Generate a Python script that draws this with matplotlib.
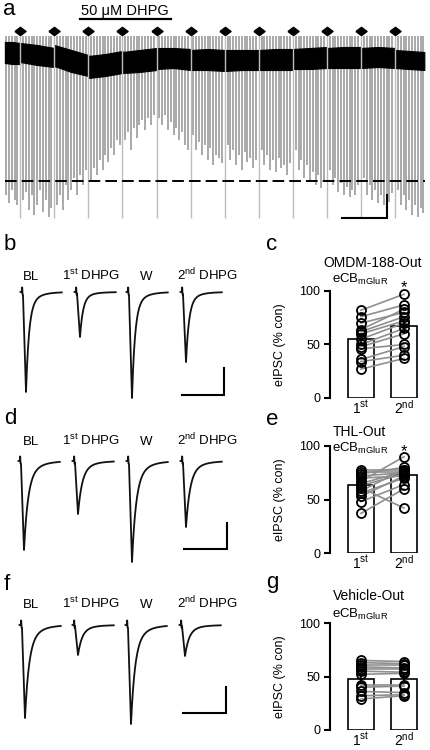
import numpy as np
import matplotlib
matplotlib.use("Agg")
import matplotlib.pyplot as plt

plt.rcParams['font.family'] = ['Liberation Sans', 'DejaVu Sans']
plt.rcParams['mathtext.fontset'] = 'custom'
plt.rcParams['mathtext.rm'] = 'Liberation Sans'
plt.rcParams['mathtext.it'] = 'Liberation Sans:italic'
plt.rcParams['mathtext.bf'] = 'Liberation Sans:bold'

W, H = 430, 750

# ---- panel a: eIPSC amplitude per sweep (pA), grouped between the train markers
sweep_amp = [
    [1400, 1480, 1350, 1450, 1500],
    [1450, 1370, 1550, 1400, 1600, 1500, 1350, 1570, 1450, 1620, 1530],
    [1500, 1400, 1550, 1300, 1450, 1350, 1230, 1400, 1200, 1300, 1150],
    [1250, 1130, 1200, 1050, 1150, 1000, 1070, 930, 1000, 850, 900],
    [850, 770, 950, 730, 830, 700, 650, 750, 630, 700, 600],
    [630, 700, 600, 750, 670, 800, 730, 850, 770, 900, 950],
    [800, 950, 870, 1000, 900, 1050, 930, 1100, 1000, 1030, 1080],
    [900, 1050, 950, 1100, 1000, 1150, 970, 1070, 1030, 1130, 1050],
    [950, 1100, 1000, 1150, 1050, 1170, 1030, 1130, 1100, 1200, 1080],
    [950, 1150, 1050, 1230, 1100, 1270, 1170, 1300, 1200, 1330, 1250],
    [1150, 1300, 1230, 1370, 1280, 1400, 1320, 1420, 1350, 1400, 1300],
    [1230, 1400, 1300, 1450, 1350, 1480, 1400, 1500, 1430, 1470, 1380],
    [1350, 1500, 1400, 1550, 1450, 1600, 1500, 1620, 1530, 1580],
]
# holding current noise band (top / bottom, pA) at start, middle, end of each block
band_top = [[130, 130, 120], [120, 100, 70], [100, 50, 0], [-10, 10, 40],
            [30, 50, 70], [70, 70, 60], [50, 60, 50], [50, 50, 50],
            [50, 60, 60], [60, 70, 80], [70, 80, 80], [70, 80, 70], [50, 40, 30]]
band_bot = [[-80, -90, -90], [-70, -100, -120], [-110, -170, -210], [-230, -210, -180],
            [-180, -170, -150], [-140, -130, -150], [-150, -150, -160], [-160, -150, -150],
            [-150, -150, -150], [-140, -140, -130], [-130, -130, -130], [-130, -120, -130],
            [-130, -140, -150]]
artifact_top = 190
train_depth = -1630
dashed_level = -1260
dhpg_on, dhpg_off = 26, 58

# ---- panels b, d, f: example eIPSC peak amplitudes (pA) for BL, 1st DHPG, W, 2nd DHPG
trace_names = ['BL', '1$^{\\rm st}$ DHPG', 'W', '2$^{\\rm nd}$ DHPG']
b_amp = [1000, 450, 1060, 700]
d_amp = [890, 530, 1010, 660]
f_amp = [930, 300, 990, 310]
b_decay = (3.0, 10.0, 0.85)
d_decay = (4.0, 12.0, 0.8)
f_decay = (4.0, 12.0, 0.8)

# ---- panels c, e, g: eIPSC (% con), paired cells
c_first = [82, 76, 70, 64, 60, 55, 50, 48, 46, 36, 34, 27, 62]
c_second = [97, 87, 80, 83, 72, 70, 65, 60, 50, 48, 40, 37, 76]
c_mean, c_sem = [55, 67], [5, 5.5]
e_first = [78, 76, 74, 72, 70, 67, 65, 63, 61, 58, 56, 53, 48, 37]
e_second = [78, 76, 80, 75, 72, 90, 76, 74, 42, 78, 70, 72, 64, 60]
e_mean, e_sem = [63.5, 73], [3.5, 3.5]
g_first = [65, 63, 61, 59, 57, 55, 52, 42, 40, 36, 32, 29]
g_second = [64, 62, 61, 58, 57, 54, 53, 42, 41, 35, 33, 32]
g_mean, g_sem = [47.5, 47.5], [3.5, 3.5]
bar_labels = ['1$^{\\rm st}$', '2$^{\\rm nd}$']

fig = plt.figure(figsize=(W / 100, H / 100), dpi=100)


def px_axes(x0, y0, x1, y1):
    return fig.add_axes([x0 / W, 1 - y1 / H, (x1 - x0) / W, (y1 - y0) / H])


def ftext(x, y, s, **kw):
    fig.text(x / W, 1 - y / H, s, **kw)


# ================= panel a
slot_px = 2.84
ax = px_axes(0, 0, W, 225)
ax.set_xlim(-6 / slot_px, (W - 6) / slot_px)
ax.set_ylim(-1700, 550)
ax.axis('off')

slot = 0
bounds = []
seg_x = []
for k, seg in enumerate(sweep_amp):
    xs = slot + np.arange(len(seg))
    seg_x.append(xs)
    slot += len(seg)
    if k < len(sweep_amp) - 1:
        bounds.append(slot)
        slot += 1

for k, seg in enumerate(sweep_amp):
    xs = seg_x[k]
    ax.vlines(xs, -np.array(seg), artifact_top, color='#a2a2a2', lw=1.3, zorder=1)
    x0 = bounds[k - 1] if k > 0 else xs[0] - 0.4
    x1 = bounds[k] if k < len(bounds) else xs[-1] + 0.3
    bx = [x0, (x0 + x1) / 2, x1]
    ax.fill_between(bx, band_bot[k], band_top[k], color='black', lw=0.8, zorder=2)

ax.vlines(bounds, train_depth, artifact_top, color='#bdbdbd', lw=1.0, zorder=3)
diamond = [(-1, 0), (0, 0.75), (1, 0), (0, -0.75), (-1, 0)]
ax.plot(bounds, [240] * len(bounds), ls='none', marker=diamond, ms=8, color='black',
        clip_on=False, zorder=4)
ax.plot([-0.35, seg_x[-1][-1] + 0.4], [dashed_level] * 2, color='black', lw=1.4,
        ls=(0, (6, 2.6)), zorder=5)
ax.plot([dhpg_on, dhpg_off], [360, 360], color='black', lw=1.6, clip_on=False)
ax.text((dhpg_on + dhpg_off) / 2, 400, '50 \u03bcM DHPG', ha='center', va='baseline',
        fontsize=10.5)
# scale bar
ax.plot([118.3, 134.2, 134.2], [train_depth, train_depth, train_depth + 230],
        color='black', lw=1.5, zorder=5, solid_joinstyle='miter')
ftext(3, 15, 'a', fontsize=16, va='baseline')


# ================= panels b, d, f
def eipsc(amp, decay):
    tau1, tau2, w = decay
    t = np.arange(-1.5, 40, 0.25)
    y = np.zeros_like(t)
    y[(t >= 0) & (t < 0.4)] = 45
    y[(t >= 0.4) & (t < 0.9)] = -25
    rise = (t >= 0.9) & (t < 4)
    y[rise] = -amp * (t[rise] - 0.9) / 3.1
    dec = t >= 4
    td = t[dec] - 4
    y[dec] = -amp * (w * np.exp(-td / tau1) + (1 - w) * np.exp(-td / tau2))
    return t, y


def trace_panel(letter, top, bot, base, amps, decay, starts, label_y, sb_y, sb_top, sb_x,
                letter_y):
    ax = px_axes(0, top, 250, bot)
    ax.set_xlim(0, 250)
    ax.set_ylim(-(bot - base) * 10, (base - top) * 10)
    ax.axis('off')
    for amp, x0 in zip(amps, starts):
        t, y = eipsc(amp, decay)
        ax.plot(x0 + t, y, color='#111111', lw=1.3)
    for name, xc in zip(trace_names, [31, 91, 146, 208]):
        ax.text(xc, (base - label_y) * 10, name, ha='center', va='baseline', fontsize=9.5)
    ax.plot([sb_x[0], sb_x[1], sb_x[1]],
            [-(sb_y - base) * 10, -(sb_y - base) * 10, -(sb_top - base) * 10],
            color='black', lw=1.5, solid_joinstyle='miter')
    ftext(4, letter_y, letter, fontsize=16, va='baseline')


trace_panel('b', 262, 412, 292, b_amp, b_decay, [22, 76, 128, 182], 280, 395, 368, (182, 224), 250)
trace_panel('d', 428, 572, 461, d_amp, d_decay, [20, 74, 128, 182], 445, 549, 523, (184, 227), 424)
trace_panel('f', 592, 742, 625, f_amp, f_decay, [21, 74, 127, 181], 608, 713, 687, (183, 226), 590)


# ================= panels c, e, g
def bar_panel(y100, y0, first, second, mean, sem, letter, letter_y, title, title_x, title_y,
              ecb_y, star_y):
    ax = px_axes(330, y100, 330 + 2.22 * 43, y0)
    ax.set_xlim(-0.72, 1.5)
    ax.set_ylim(0, 100)
    for s in ['top', 'right', 'bottom']:
        ax.spines[s].set_visible(False)
    ax.spines['left'].set_linewidth(1.5)
    ax.set_yticks([0, 50, 100])
    ax.tick_params(axis='y', length=4.3, width=1.5, labelsize=9, pad=2.5)
    ax.set_xticks([0, 1])
    ax.set_xticklabels(bar_labels, fontsize=10)
    ax.tick_params(axis='x', length=0, pad=0.5)
    ax.bar([0, 1], mean, width=0.6, color='white', edgecolor='black', lw=1.2, zorder=2)
    for a, b in zip(first, second):
        ax.plot([0, 1], [a, b], color='#8f8f8f', lw=1.2, zorder=3, clip_on=False)
    ax.plot([0] * len(first), first, 'o', mfc='none', mec='black', ms=6.5, mew=1.3,
            zorder=4, clip_on=False)
    ax.plot([1] * len(second), second, 'o', mfc='none', mec='black', ms=6.5, mew=1.3,
            zorder=4, clip_on=False)
    ax.errorbar([0, 1], mean, yerr=sem, fmt='none', ecolor='black', elinewidth=1.2,
                capsize=3, capthick=1.2, zorder=5)
    ax.set_ylabel('eIPSC (% con)', fontsize=9)
    ax.yaxis.set_label_coords((286 - 330) / (2.22 * 43), 0.5)
    ftext(266, letter_y, letter, fontsize=16, va='baseline')
    ftext(title_x, title_y, title, fontsize=10, va='baseline')
    ftext(332, ecb_y, 'eCB$_{\\rm mGluR}$', fontsize=9.5, va='baseline')
    if star_y is not None:
        ftext(404, star_y, '*', fontsize=12, ha='center', va='baseline')


bar_panel(291, 398, c_first, c_second, c_mean, c_sem, 'c', 250, 'OMDM-188-Out', 323, 267, 283, 292)
bar_panel(446, 553, e_first, e_second, e_mean, e_sem, 'e', 425, 'THL-Out', 333, 436, 452, 456)
bar_panel(623, 730, g_first, g_second, g_mean, g_sem, 'g', 588, 'Vehicle-Out', 333, 600, 618, None)

fig.savefig('out.png', dpi=100)
